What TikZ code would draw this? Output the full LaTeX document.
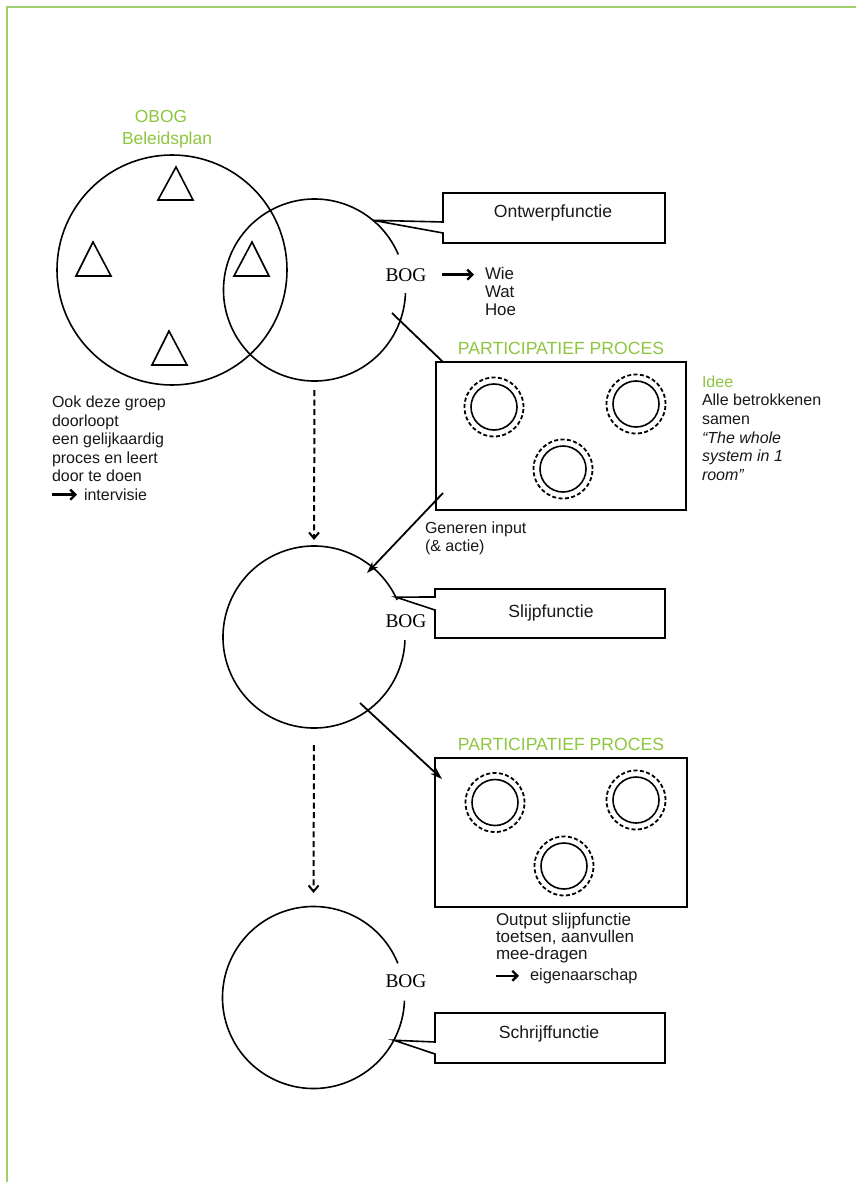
\documentclass[tikz,border=0pt]{standalone}
\usepackage{fontspec}
\setmainfont{Liberation Sans}
\newfontfamily\bogfont{Liberation Serif}
\usetikzlibrary{arrows.meta,calc}
\definecolor{obgreen}{RGB}{141,198,63}
\definecolor{framegreen}{RGB}{160,208,110}
\definecolor{ink}{RGB}{25,25,25}
\begin{document}
\begin{tikzpicture}[x=0.5pt,y=0.5pt, line width=0.8pt,
  txt/.style={inner sep=0, outer sep=0, anchor=base west, text=ink, font=\fontsize{8pt}{9pt}\selectfont},
  otxt/.style={txt, font=\fontsize{8.5pt}{9pt}\selectfont},
  wtxt/.style={txt, font=\fontsize{8.45pt}{9pt}\selectfont},
  btxt/.style={inner sep=0, outer sep=0, anchor=base, text=ink, font=\fontsize{8.8pt}{9pt}\selectfont},
  gtxt/.style={btxt, text=obgreen},
  bog/.style={inner sep=0, outer sep=0, anchor=base, font=\bogfont\fontsize{9.7pt}{10pt}\selectfont},
  ring/.style={circle, minimum size=91pt, inner sep=0, outer sep=0},
  callbox/.style={rectangle, inner sep=0, outer sep=0},
  ppbox/.style={rectangle, draw, inner sep=0, outer sep=0},
  member/.style={circle, draw, inner sep=0, outer sep=0, minimum size=23pt},
  halo/.style={line width=0.9pt, dash pattern=on 2pt off 1.2pt},
  dasharrow/.style={line width=1pt, dash pattern=on 3pt off 1.8pt, -{Straight Barb[length=3pt,width=5pt]}},
  solidarrow/.style={line width=0.9pt, -{Stealth[length=6pt,width=4pt]}},
  textarrow/.style={line width=1.2pt, -{Straight Barb[length=2.5pt,width=5pt]}}
]
\useasboundingbox (0,0) rectangle (856,-1182);
\fill[white] (0,0) rectangle (856,-1182);
% frame
\draw[framegreen, line width=1pt] (7,-1182) -- (7,-7) -- (856,-7);

% OBOG circle with triangles
\node[gtxt, font=\fontsize{8.7pt}{9pt}\selectfont] (obogt) at (161,-123) {OBOG};
\node[gtxt, font=\fontsize{8.7pt}{9pt}\selectfont] (belt) at (167,-145) {Beleidsplan};
\node[circle, draw, minimum size=115pt, inner sep=0, outer sep=0] (obog) at (172,-270) {};
\draw (158,-200) -- (176,-167) -- (193,-200) -- cycle;
\draw (76,-276) -- (93,-242) -- (111,-276) -- cycle;
\draw (234,-276) -- (252,-242) -- (269,-276) -- cycle;
\draw (152,-365) -- (169,-331) -- (187,-365) -- cycle;

% BOG circles (open at the label)
\node[ring] (c1) at (314.5,-290) {};
\node[ring] (c2) at (314,-637) {};
\node[ring] (c3) at (313.5,-997.5) {};
\draw (c1.23) arc[start angle=23, end angle=358, radius=45.5pt];
\draw (c2.24) arc[start angle=24, end angle=358, radius=45.5pt];
\draw (c3.22) arc[start angle=22, end angle=358, radius=45.5pt];
\node[bog] (bog1) at (406,-281) {BOG};
\node[bog] (bog2) at (406,-627) {BOG};
\node[bog] (bog3) at (406,-987) {BOG};

% callout boxes
\node[callbox, minimum width=111pt, minimum height=25pt] (b1) at (554,-218) {};
\draw[fill=white] (b1.north west) -- (b1.north east) -- (b1.south east) -- (b1.south west)
  -- ($(b1.south west)+(0,10)$) -- (c1.50) -- ($(b1.north west)+(0,-29)$) -- cycle;
\node[btxt] (b1t) at (553,-217.5) {Ontwerpfunctie};

\node[callbox, minimum width=115pt, minimum height=24.5pt] (b2) at (550,-613.5) {};
\draw[fill=white] (b2.north west) -- (b2.north east) -- (b2.south east) -- (b2.south west)
  -- ($(b2.south west)+(0,28)$) -- (c2.26) -- ($(b2.north west)+(0,-8)$) -- cycle;
\node[btxt] (b2t) at (551,-617.5) {Slijpfunctie};

\node[callbox, minimum width=115pt, minimum height=25pt] (b3) at (550,-1038) {};
\draw[fill=white] (b3.north west) -- (b3.north east) -- (b3.south east) -- (b3.south west)
  -- ($(b3.south west)+(0,9)$) -- (c3.-28) -- ($(b3.north west)+(0,-29)$) -- cycle;
\node[btxt] (b3t) at (549,-1038) {Schrijffunctie};

% Wie Wat Hoe
\node[wtxt] (wie) at (485,-279) {Wie};
\node[wtxt] (wat) at (485,-297) {Wat};
\node[wtxt] (hoe) at (485,-315) {Hoe};
\draw[textarrow, shorten <=8pt, shorten >=5.5pt] (bog1.east) -- (bog1.east -| wie.west);

% participatief proces 1
\node[gtxt] (pp1t) at (561,-354) {PARTICIPATIEF PROCES};
\node[ppbox, minimum width=125pt, minimum height=74pt] (pp1) at (561,-436) {};
\node[member] (m11) at (494,-407) {};
\node[member] (m12) at (636,-404) {};
\node[member] (m13) at (563,-469) {};
\foreach \m in {m11,m12,m13} \draw[halo] (\m.center) circle[radius=14.75pt];

\coordinate (l1s) at (392,-313);
\draw[line width=0.9pt] (l1s) -- ($(pp1.north west)+(7,0)$);

% Idee
\node[txt, text=obgreen] (i1) at (702,-387) {Idee};
\node[txt] (i2) at (702,-405.7) {Alle betrokkenen};
\node[txt] (i3) at (702,-424.4) {samen};
\node[txt, font=\fontsize{8pt}{9pt}\selectfont\itshape] (i4) at (702,-443) {“The whole};
\node[txt, font=\fontsize{8pt}{9pt}\selectfont\itshape] (i5) at (702,-461.8) {system in 1};
\node[txt, font=\fontsize{8pt}{9pt}\selectfont\itshape] (i6) at (702,-480.5) {room”};

% side text
\foreach \t/\y [count=\i] in {Ook deze groep/407.5, doorloopt/426, een gelijkaardig/444.6, proces en leert/463.2, door te doen/481.8}
  \node[txt] (s\i) at (52,-\y) {\t};
\node[txt] (s6) at (84,-500.4) {intervisie};
\draw[textarrow, shorten >=3.5pt] (s6.west -| s1.west) -- (s6.west);

% generen input
\node[txt] (g1) at (425,-533) {Generen input};
\node[txt] (g2) at (425,-551) {(\& actie)};
\coordinate (gtip) at (367,-573);
\draw[solidarrow] ($(pp1.south west)+(7,17)$) -- (gtip);

% dashed flow arrows
\draw[dasharrow, shorten <=4.5pt, shorten >=3pt] (c1.south) -- (c2.north);
\draw[dasharrow, shorten <=8.5pt, shorten >=6.75pt] (c2.south) -- (c3.north);

% participatief proces 2
\node[gtxt] (pp2t) at (561,-750) {PARTICIPATIEF PROCES};
\node[ppbox, minimum width=126pt, minimum height=74.5pt] (pp2) at (561,-832.5) {};
\node[member] (m21) at (495,-802.5) {};
\node[member] (m22) at (636,-800) {};
\node[member] (m23) at (564,-866) {};
\foreach \m in {m21,m22,m23} \draw[halo] (\m.center) circle[radius=14.75pt];
\coordinate (l2s) at (360,-703);
\draw[solidarrow] (l2s) -- ($(pp2.north west)+(7,-21)$);

% output text
\node[otxt] (o1) at (496,-925.7) {Output slijpfunctie};
\node[otxt] (o2) at (496,-942.5) {toetsen, aanvullen};
\node[otxt] (o3) at (496,-959) {mee-dragen};
\node[txt, font=\fontsize{8.2pt}{9pt}\selectfont] (o4) at (530,-980) {eigenaarschap};
\draw[textarrow, shorten >=5.5pt] (o4.west -| o1.west) -- (o4.west);
\end{tikzpicture}
\end{document}
